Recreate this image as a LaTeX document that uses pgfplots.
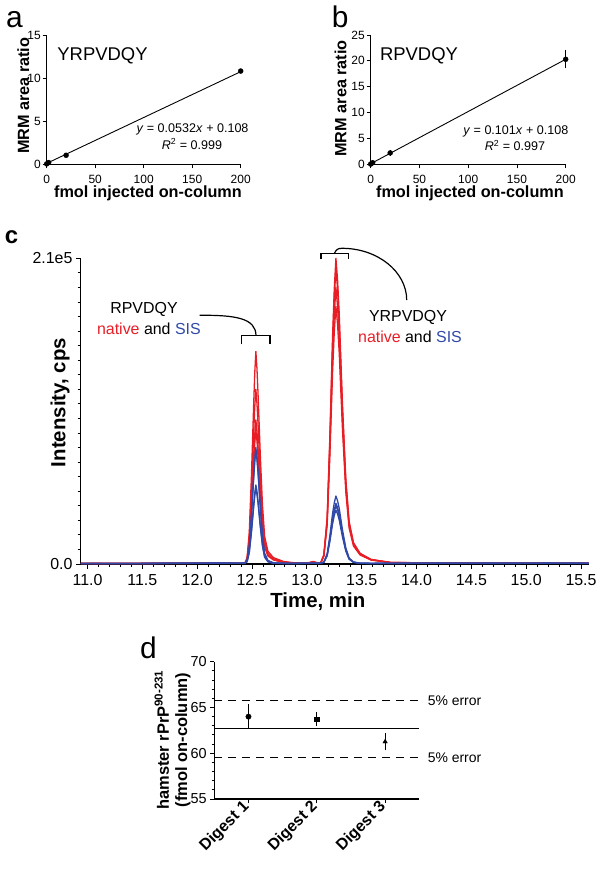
\documentclass[border=0pt]{standalone}
\usepackage{pgfplots}
\usepackage{pgfplotstable}
\pgfplotsset{compat=1.18}
\usepackage{fontspec}
\setmainfont{Liberation Sans}
\definecolor{nred}{RGB}{232,30,38}
\definecolor{sblue}{RGB}{48,72,168}

\pgfplotstableread{
t       r1     r2     r3     r4     b1    b2    b3    b4
10.94   0.4    0.3    0.5    0.4    0.3   0.4   0.3   0.4
11.40   0.3    0.4    0.3    0.5    0.4   0.3   0.4   0.3
11.85   0.6    0.5    0.7    0.4    0.5   0.6   0.4   0.5
12.20   0.5    0.8    0.5    0.6    0.6   0.5   0.7   0.5
12.435  0.6    0.5    0.6    0.5    0.5   0.6   0.5   0.6
12.455  4.4    3.6    3.0    2.8    2.4   2.3   1.6   1.6
12.475  21.9   18     14.9   13.8   12    11.7  8.1   7.8
12.495  61.3   50.4   41.6   38.6   33.6  32.8  22.8  21.8
12.515  109.5  90     74.3   69     60    58.5  40.7  39
12.525  131.4  108    89.1   82.8   72    70.2  48.9  46.8
12.535  146    120    99     92     80    78    54.3  52
12.545  134.3  110.4  91.1   84.6   73.6  71.8  50.0  47.8
12.555  116.8  96     79.2   73.6   64    62.4  43.4  41.6
12.575  75.9   62.4   51.5   47.8   40    39    27.2  26
12.595  40.9   33.6   27.7   25.8   19.2  18.7  13.0  12.5
12.615  19.0   15.6   12.9   12.0   7.2   7.0   4.9   4.7
12.645  8.8    7.2    5.9    5.5    2.4   2.3   1.6   1.6
12.695  4.4    3.6    3.0    2.8    0.8   0.8   0.5   0.5
12.785  1.8    1.4    1.2    1.1    0.5   0.4   0.5   0.4
12.885  0.8    0.6    0.5    0.6    0.4   0.5   0.3   0.4
13.00   0.6    0.7    0.5    0.6    0.5   0.4   0.5   0.5
13.06   1.8    1.2    1.5    1.0    0.6   0.5   0.6   0.5
13.10   0.6    0.5    0.7    0.5    0.4   0.5   0.4   0.5
13.125  0.6    0.5    0.6    0.5    0.5   0.5   0.5   0.5
13.155  6.3    6.1    5.3    5.7    1.4   1.3   1.1   1.2
13.185  31.5   30.5   26.6   28.5   7.0   6.3   5.6   6
13.21   88.2   85.3   74.3   79.8   19.6  17.5  15.5  16.8
13.235  157.5  152.3  132.8  142.5  35.0  31.3  27.8  30
13.25   189    182.7  159.3  171    42.0  37.5  33.3  36
13.265  210    203    177    190    46.7  41.7  37    40
13.28   195.3  188.8  164.6  176.7  43.4  38.8  34.4  37.2
13.295  172.2  166.5  145.1  155.8  38.3  34.2  30.3  32.8
13.325  109.2  105.6  92.0   98.8   23.4  20.9  18.5  20
13.355  58.8   56.8   49.6   53.2   11.2  10.0  8.9   9.6
13.385  29.4   28.4   24.8   26.6   4.2   3.8   3.3   3.6
13.425  14.7   14.2   12.4   13.3   1.4   1.3   1.1   1.2
13.485  7.4    7.1    6.2    6.7    0.6   0.5   0.5   0.5
13.585  3.2    3.0    2.7    2.9    0.4   0.5   0.4   0.4
13.765  1.1    1.0    0.9    1.0    0.5   0.4   0.5   0.4
14.20   0.7    0.8    0.6    0.7    0.5   0.6   0.5   0.5
14.70   0.6    0.5    0.7    0.6    0.5   0.4   0.6   0.5
15.20   0.6    0.7    0.5    0.6    0.6   0.5   0.5   0.6
15.57   0.5    0.6    0.5    0.5    0.5   0.5   0.4   0.5
}\chromdata

\pgfplotsset{
  calstyle/.style={
    anchor=south west, scale only axis, width=194bp, height=129.3bp,
    xmin=0, xmax=200, ymin=0,
    axis lines*=left, clip=false,
    xtick={0,50,100,150,200},
    tick align=outside, major tick length=4bp,
    every tick/.style={black, line width=0.9pt},
    axis line style={line width=1.1pt},
    tick label style={font=\fontsize{12}{12}\selectfont},
    xticklabel style={yshift=-3bp},
    yticklabel style={xshift=1.5bp},
    /pgf/number format/assume math mode=true,
    xlabel={fmol injected on-column}, ylabel={MRM area ratio},
    label style={font=\bfseries\fontsize{16.3}{16}\selectfont},
  }
}

\begin{document}
\begin{tikzpicture}
\path[use as bounding box] (0bp,0bp) rectangle (602bp,-871bp);

% ---------- panel a ----------
\begin{axis}[calstyle, at={(46.7bp,-164.3bp)}, ymax=15, ytick={0,5,10,15},
  xlabel style={at={(axis description cs:0.522,-0.222)}, anchor=center},
  ylabel style={at={(axis description cs:-0.12,0.53)}, anchor=center}]
\addplot[black, line width=0.9pt] coordinates {(0,0.108) (200,10.748)};
\addplot[only marks, mark=*, mark size=2.5bp, black] coordinates {(0,0.05) (2,0.2) (20,1.05) (200,10.82)};
\end{axis}

% ---------- panel b ----------
\begin{axis}[calstyle, at={(370.7bp,-164.3bp)}, width=195bp, ymax=25, ytick={0,5,10,15,20,25},
  xlabel style={at={(axis description cs:0.509,-0.222)}, anchor=center},
  ylabel style={at={(axis description cs:-0.155,0.51)}, anchor=center}]
\addplot[black, line width=0.9pt] coordinates {(0,0.108) (200,20.308)};
\addplot[only marks, mark=*, mark size=2.5bp, black,
  error bars/.cd, y dir=both, y explicit,
  error bar style={line width=0.9pt}, error mark options={line width=0.9pt, mark size=3bp}]
  coordinates {(0,0.05) +- (0,0) (2,0.3) +- (0,0) (20,2.2) +- (0,0) (200,20.3) +- (0,1.17)};
\end{axis}

% ---------- panel c ----------
\begin{axis}[at={(80.5bp,-564bp)}, anchor=south west, scale only axis,
  width=508.2bp, height=305.7bp,
  xmin=10.936, xmax=15.57, ymin=0, ymax=210,
  axis lines*=left, clip=false,
  xtick={11,11.5,12,12.5,13,13.5,14,14.5,15,15.5}, minor x tick num=4,
  ytick={0,210}, yticklabels={0.0,2.1e5}, minor ytick={10,20,...,200},
  tick align=outside, major tick length=4.5bp, minor tick length=2.8bp,
  every tick/.style={black, line width=0.9pt},
  axis line style={line width=1.4pt},
  tick label style={font=\fontsize{16}{16}\selectfont},
  xticklabel style={yshift=-2.5bp, /pgf/number format/.cd, fixed, fixed zerofill, precision=1, assume math mode=true},
  xlabel={Time, min}, ylabel={Intensity, cps},
  label style={font=\bfseries\fontsize{20.5}{20}\selectfont},
  xlabel style={at={(axis description cs:0.467,-0.123)}, anchor=center},
  ylabel style={at={(axis description cs:-0.040,0.528)}, anchor=center},
  every axis plot/.style={line width=1.3pt, line join=round}]
\addplot[nred] table[x=t, y=r1] {\chromdata};
\addplot[nred] table[x=t, y=r2] {\chromdata};
\addplot[nred] table[x=t, y=r3] {\chromdata};
\addplot[nred] table[x=t, y=r4] {\chromdata};
\addplot[sblue] table[x=t, y=b1] {\chromdata};
\addplot[sblue] table[x=t, y=b2] {\chromdata};
\addplot[sblue] table[x=t, y=b3] {\chromdata};
\addplot[sblue] table[x=t, y=b4] {\chromdata};
\end{axis}

% ---------- panel d ----------
\begin{axis}[at={(214.3bp,-799bp)}, anchor=south west, scale only axis,
  width=205bp, height=137.3bp,
  xmin=0.5, xmax=3.5, ymin=55, ymax=70,
  axis lines*=left, clip=false,
  xtick={1,2,3}, xticklabels={Digest 1,Digest 2,Digest 3},
  ytick={55,60,65,70}, minor y tick num=4,
  tick align=outside, major tick length=4bp, minor tick length=2.5bp,
  every tick/.style={black, line width=0.9pt},
  axis line style={line width=1.1pt},
  y tick label style={font=\fontsize{14.5}{14}\selectfont},
  x tick label style={rotate=45, anchor=east, xshift=1bp, font=\bfseries\fontsize{16}{16}\selectfont},
  /pgf/number format/assume math mode=true,
  ylabel={hamster rPrP\textsuperscript{90-231}\\(fmol on-column)},
  ylabel style={align=center, font=\bfseries\fontsize{16.5}{18.4}\selectfont,
    at={(axis description cs:-0.204,0.43)}, anchor=center}]
\addplot[black, line width=1.1pt] coordinates {(0.5,62.68) (3.5,62.68)};
\addplot[black, line width=1.1pt, dash pattern=on 8bp off 6bp] coordinates {(0.5,65.74) (3.5,65.74)};
\addplot[black, line width=1.1pt, dash pattern=on 8bp off 6bp] coordinates {(0.5,59.55) (3.5,59.55)};
\addplot[black, only marks, mark=*, mark size=2.7bp,
  error bars/.cd, y dir=both, y explicit,
  error bar style={line width=0.9pt}, error mark options={line width=0.9pt, mark size=3.3bp}]
  coordinates {(1,64.0) +- (0,1.0)};
\addplot[black, only marks, mark=square*, mark size=2.2bp,
  error bars/.cd, y dir=both, y explicit,
  error bar style={line width=0.9pt}, error mark options={line width=0.9pt, mark size=3.3bp}]
  coordinates {(2,63.74) +- (0,0.42)};
\addplot[black, only marks, mark=triangle*, mark size=2.6bp,
  error bars/.cd, y dir=both, y explicit,
  error bar style={line width=0.9pt}, error mark options={line width=0.9pt, mark size=3.3bp}]
  coordinates {(3,61.26) +- (0,0.55)};
\node[anchor=west, font=\fontsize{14}{14}\selectfont] at (axis cs:3.5,65.74) [xshift=5bp] {5\% error};
\node[anchor=west, font=\fontsize{14}{14}\selectfont] at (axis cs:3.5,59.55) [xshift=5bp] {5\% error};
\end{axis}

% ---------- annotations (absolute, 1 unit = 1 px of the reference) ----------
\begin{scope}[x=1bp, y=-1bp]
\node[anchor=base west, inner sep=0, font=\fontsize{30}{30}\selectfont] at (6,27.3) {a};
\node[anchor=base west, inner sep=0, font=\fontsize{30}{30}\selectfont] at (331.7,27.3) {b};
\node[anchor=base west, inner sep=0, font=\bfseries\fontsize{24}{24}\selectfont] at (4.6,243.3) {c};
\node[anchor=base west, inner sep=0, font=\fontsize{30}{30}\selectfont] at (140,658) {d};

\node[font=\fontsize{18.5}{18}\selectfont] at (102.5,56) {YRPVDQY};
\node[font=\fontsize{12.6}{12}\selectfont] at (192.5,129.3) {\textit{y} = 0.0532\textit{x} + 0.108};
\node[font=\fontsize{12.6}{12}\selectfont] at (192,144) {\textit{R}\textsuperscript{2} = 0.999};

\node[font=\fontsize{18.5}{18}\selectfont] at (419,56) {RPVDQY};
\node[font=\fontsize{12.6}{12}\selectfont] at (515.8,131) {\textit{y} = 0.101\textit{x} + 0.108};
\node[font=\fontsize{12.6}{12}\selectfont] at (515,145.7) {\textit{R}\textsuperscript{2} = 0.997};

\node[font=\fontsize{16}{16}\selectfont] at (144,309.3) {RPVDQY};
\node[font=\fontsize{16}{16}\selectfont] at (148.9,329.3) {\textcolor{nred}{native} and \textcolor{sblue}{SIS}};
\node[font=\fontsize{16}{16}\selectfont] at (408,317.3) {YRPVDQY};
\node[font=\fontsize{16}{16}\selectfont] at (410,337.3) {\textcolor{nred}{native} and \textcolor{sblue}{SIS}};

\draw[line width=1.2pt] (241.7,344.3) -- (241.7,335.7) -- (270,335.7) -- (270,344.3);
\draw[line width=1.2pt] (256,335.7) .. controls (256,318) and (235,315) .. (199.6,315.3);
\draw[line width=1.2pt] (321,259.3) -- (321,253.3) -- (348.3,253.3) -- (348.3,259.3);
\draw[line width=1.2pt] (334.5,253.3) .. controls (336,249.5) and (338,248.3) .. (342,248.3)
   .. controls (378,248.3) and (406.7,272) .. (406.7,300);
\end{scope}
\end{tikzpicture}
\end{document}
